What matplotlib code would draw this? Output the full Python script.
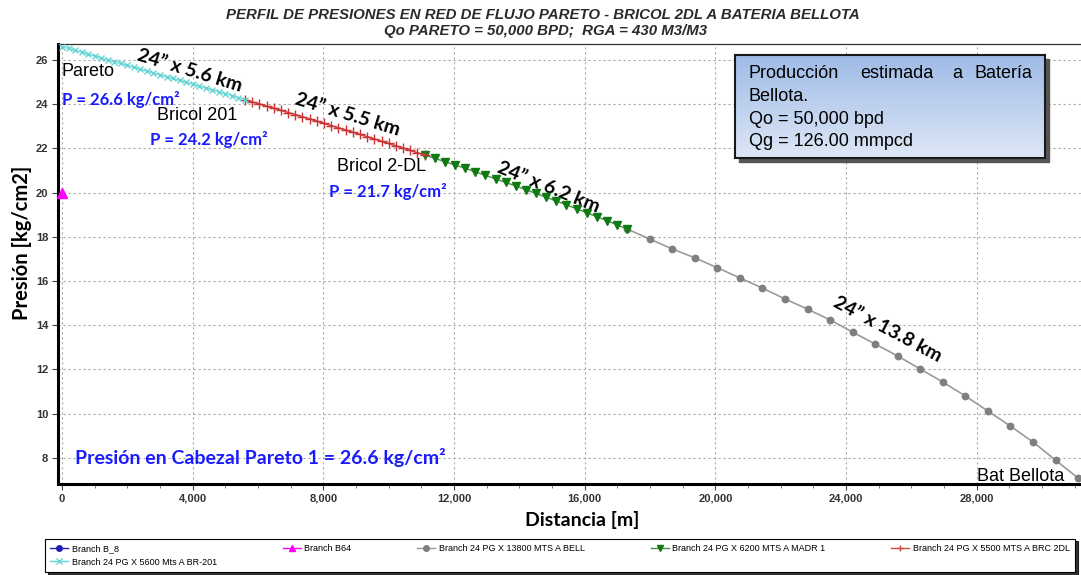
import numpy as np
import matplotlib
matplotlib.use("Agg")
import matplotlib.pyplot as plt
from matplotlib.colors import LinearSegmentedColormap
from matplotlib.patches import Rectangle
from matplotlib.ticker import FuncFormatter, MultipleLocator

# distancias [m] y presiones [kg/cm2] por tramo
dist_5600 = [0, 200, 400, 600, 800, 1000, 1200, 1400, 1600, 1800, 2000, 2200, 2400, 2600,
             2800, 3000, 3200, 3400, 3600, 3800, 4000, 4200, 4400, 4600, 4800, 5000, 5200,
             5400, 5600]
pres_5600 = [26.60, 26.52, 26.43, 26.35, 26.26, 26.18, 26.09, 26.01, 25.92, 25.84, 25.75,
             25.67, 25.58, 25.50, 25.41, 25.33, 25.24, 25.16, 25.07, 24.99, 24.90, 24.82,
             24.73, 24.65, 24.56, 24.48, 24.39, 24.30, 24.20]

dist_5500 = [5600, 5820, 6040, 6260, 6480, 6700, 6920, 7140, 7360, 7580, 7800, 8020, 8240,
             8460, 8680, 8900, 9120, 9340, 9560, 9780, 10000, 10220, 10440, 10660, 10880, 11100]
pres_5500 = [24.20, 24.10, 24.01, 23.91, 23.82, 23.72, 23.62, 23.53, 23.43, 23.33, 23.23,
             23.13, 23.03, 22.93, 22.83, 22.73, 22.63, 22.53, 22.43, 22.32, 22.22, 22.12,
             22.01, 21.91, 21.80, 21.70]

dist_6200 = [11100, 11410, 11720, 12030, 12340, 12650, 12960, 13270, 13580, 13890, 14200,
             14510, 14820, 15130, 15440, 15750, 16060, 16370, 16680, 16990, 17300]
pres_6200 = [21.70, 21.55, 21.40, 21.25, 21.10, 20.94, 20.78, 20.62, 20.46, 20.30, 20.13,
             19.96, 19.79, 19.62, 19.45, 19.27, 19.09, 18.91, 18.73, 18.54, 18.35]

dist_13800 = [17300, 17990, 18680, 19370, 20060, 20750, 21440, 22130, 22820, 23510, 24200,
              24890, 25580, 26270, 26960, 27650, 28340, 29030, 29720, 30410, 31100]
pres_13800 = [18.35, 17.90, 17.45, 17.05, 16.60, 16.14, 15.68, 15.19, 14.73, 14.24, 13.69,
              13.15, 12.61, 12.02, 11.43, 10.80, 10.12, 9.44, 8.72, 7.90, 7.09]

dist_b64 = [0]
pres_b64 = [20.0]

x_ticks = [0, 4000, 8000, 12000, 16000, 20000, 24000, 28000]
y_ticks = [8, 10, 12, 14, 16, 18, 20, 22, 24, 26]

W, H = 1081, 575
fig = plt.figure(figsize=(W / 100, H / 100), dpi=100)
ax = fig.add_axes([58 / W, 1 - 484 / H, 1 - 58 / W, (484 - 44) / H])

ax.plot(dist_13800, pres_13800, color="#9a9a9a", lw=1.2, marker="o", ms=4.6,
        mfc="#7f7f7f", mec="#7f7f7f", zorder=3)
ax.plot(dist_6200, pres_6200, color="#4d8a4d", lw=1.0, marker="v", ms=5.2,
        mfc="#0f7a12", mec="#0f7a12", zorder=4)
ax.plot(dist_5500, pres_5500, color="#d04a4a", lw=1.2, marker="+", ms=7,
        mec="#c83232", zorder=4)
ax.plot(dist_5600, pres_5600, color="#7fdede", lw=1.2, marker="x", ms=5,
        mec="#66d4d4", zorder=4)
ax.plot(dist_b64, pres_b64, ls="none", marker="^", ms=6.5, color="#ff00ff",
        clip_on=False, zorder=5)

ax.set_xlim(-122, 31190)
ax.set_ylim(6.82, 26.72)
ax.set_xticks(x_ticks)
ax.set_yticks(y_ticks)
ax.xaxis.set_minor_locator(MultipleLocator(1000))
ax.xaxis.set_major_formatter(FuncFormatter(lambda v, p: f"{int(v):,}"))
ax.tick_params(axis="both", which="major", length=4, width=0.8, color="#444444",
               labelsize=8, labelcolor="#333333", pad=3)
ax.tick_params(axis="x", which="minor", length=3, width=0.6, color="#666666")
for lab in ax.get_xticklabels() + ax.get_yticklabels():
    lab.set_fontweight("bold")
    lab.set_family("Liberation Sans")

ax.grid(True, which="major", ls=(0, (2, 2.5)), color="#a8a8a8", lw=0.8)
ax.spines["left"].set_linewidth(2.2)
ax.spines["bottom"].set_linewidth(2.2)
ax.spines["top"].set_linewidth(0.9)
ax.spines["top"].set_color("#333333")
ax.spines["right"].set_visible(False)

# textos sobre la gráfica
cal = ["Lato", "DejaVu Sans"]
ari = ["Liberation Sans", "DejaVu Sans"]
seg_kw = dict(fontsize=14, fontweight="bold", family=cal, color="black",
              ha="center", va="center", rotation_mode="anchor")
ax.text(3900, 25.50, "24” x 5.6 km", rotation=-17, **seg_kw)
ax.text(8750, 23.52, "24” x 5.5 km", rotation=-17, **seg_kw)
ax.text(14880, 20.25, "24” x 6.2 km", rotation=-22, **seg_kw)
ax.text(25280, 13.80, "24” x 13.8 km", rotation=-28, **seg_kw)

node_kw = dict(fontsize=13, family=ari, color="black", va="center")
pk_kw = dict(fontsize=12, fontweight="bold", family=cal, color="#1a1aff", va="center")
ax.text(0, 25.46, "Pareto", ha="left", **node_kw)
ax.text(0, 24.19, "P = 26.6 kg/cm²", ha="left", **pk_kw)
ax.text(2900, 23.47, "Bricol 201", ha="left", **node_kw)
ax.text(2700, 22.38, "P = 24.2 kg/cm²", ha="left", **pk_kw)
ax.text(8420, 21.16, "Bricol 2-DL", ha="left", **node_kw)
ax.text(8170, 20.07, "P = 21.7 kg/cm²", ha="left", **pk_kw)
ax.text(30670, 7.18, "Bat Bellota", ha="right", **node_kw)
ax.text(400, 8.04, "Presión en Cabezal Pareto 1 = 26.6 kg/cm²", ha="left",
        fontsize=14, fontweight="bold", family=cal, color="#1a1aff", va="center")

# titulos
fig.text(543 / W, 1 - 15 / H, "PERFIL DE PRESIONES EN RED DE FLUJO PARETO - BRICOL 2DL A BATERIA BELLOTA",
         ha="center", va="center", fontsize=10.8, fontweight="bold", style="italic",
         family=ari, color="#2a2a2a")
fig.text(546 / W, 1 - 31 / H, "Qo PARETO = 50,000 BPD;  RGA = 430 M3/M3",
         ha="center", va="center", fontsize=10.8, fontweight="bold", style="italic",
         family=ari, color="#2a2a2a")
fig.text(22 / W, 1 - 243 / H, "Presión [kg/cm2]", rotation=90, ha="center", va="center",
         fontsize=14.5, fontweight="bold", family=cal)
fig.text(582 / W, 1 - 520 / H, "Distancia [m]", ha="center", va="center",
         fontsize=14, fontweight="bold", family=cal)

# cuadro de producción
bx, by, bw, bh = 735, 55, 310, 103
fig.patches.append(Rectangle(((bx + 4) / W, 1 - (by + bh + 4) / H), bw / W, bh / H,
                             transform=fig.transFigure, color="#555555", zorder=2))
box = fig.add_axes([bx / W, 1 - (by + bh) / H, bw / W, bh / H], zorder=3)
grad = LinearSegmentedColormap.from_list("g", ["#dde7f6", "#9fbbe6"])
box.imshow(np.linspace(0, 1, 100).reshape(-1, 1), cmap=grad, aspect="auto",
           extent=(0, 1, 0, 1), origin="lower")
box.set_xlim(0, 1)
box.set_ylim(0, 1)
box.set_xticks([])
box.set_yticks([])
for s in box.spines.values():
    s.set_linewidth(1.5)
    s.set_color("#1a1a1a")
bt = dict(fontsize=13, family=ari, color="black", va="center")
box.text(0.045, 0.82, "Producción", ha="left", **bt)
box.text(0.405, 0.82, "estimada", ha="left", **bt)
box.text(0.70, 0.82, "a", ha="left", **bt)
box.text(0.96, 0.82, "Batería", ha="right", **bt)
box.text(0.045, 0.595, "Bellota.", ha="left", **bt)
box.text(0.045, 0.375, "Qo = 50,000 bpd", ha="left", **bt)
box.text(0.045, 0.16, "Qg = 126.00 mmpcd", ha="left", **bt)

# leyenda
handles = [
    plt.Line2D([], [], color="#1f1fb4", marker="o", ms=4, lw=1),
    plt.Line2D([], [], color="#66d4d4", marker="x", ms=4, lw=1),
    plt.Line2D([], [], color="#ff00ff", marker="^", ms=4, lw=1),
    plt.Line2D([], [], color="#9a9a9a", marker="o", ms=4, lw=1, mfc="#7f7f7f", mec="#7f7f7f"),
    plt.Line2D([], [], color="#4d8a4d", marker="v", ms=4, lw=1, mfc="#0f7a12", mec="#0f7a12"),
    plt.Line2D([], [], color="#d04a4a", marker="+", ms=5, lw=1),
]
labels = ["Branch B_8", "Branch 24 PG X 5600 Mts A BR-201", "Branch B64",
          "Branch 24 PG X 13800 MTS A BELL", "Branch 24 PG X 6200 MTS A MADR 1",
          "Branch 24 PG X 5500 MTS A BRC 2DL"]
leg = fig.legend(handles, labels, loc="lower left", ncol=5, mode="expand",
                 bbox_to_anchor=(45 / W, 1 - 572 / H, (1075 - 45) / W, 32 / H),
                 prop={"family": ari, "size": 6.5}, frameon=True, fancybox=False,
                 shadow={"color": "black", "alpha": 0.8}, edgecolor="black",
                 borderaxespad=0, handlelength=2, handletextpad=0.4, borderpad=0.6,
                 labelspacing=0.5)
leg.get_frame().set_linewidth(0.8)

fig.savefig("out.png", dpi=100, facecolor="white")
